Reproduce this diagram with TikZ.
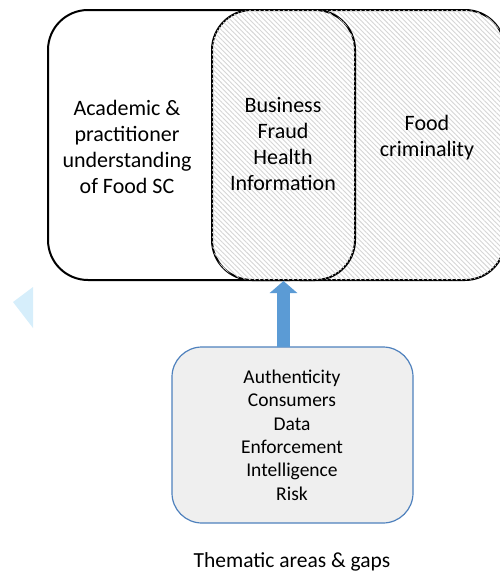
\documentclass[tikz,border=0pt]{standalone}
\usepackage{fontspec}
\setmainfont{Carlito}
\usetikzlibrary{patterns.meta,arrows.meta}
\definecolor{hatchgray}{HTML}{D6D6D6}
\definecolor{arrowblue}{HTML}{5B9BD5}
\definecolor{boxblue}{HTML}{4F81BD}
\definecolor{boxgray}{HTML}{EFEFEF}
\definecolor{triblue}{HTML}{D6EEFB}
\tikzset{
  topbox/.style={draw=black, line width=2pt, rounded corners=40pt},
  hatched/.style={topbox, fill=white, postaction={pattern={Lines[angle=-45,distance=3.4pt,line width=0.9pt]}, pattern color=hatchgray}},
  bigtext/.style={font=\fontsize{22}{26}\selectfont, align=center, inner sep=0pt},
  listtext/.style={font=\fontsize{19.5}{23.4}\selectfont, align=center, inner sep=0pt},
  listbox/.style={draw=boxblue, line width=1.2pt, fill=boxgray, rounded corners=30pt},
}
\begin{document}
\begin{tikzpicture}[x=1pt,y=-1pt]
\useasboundingbox (0,0) rectangle (500,573);
\clip (0,0) rectangle (500,573);
% right hatched box
\draw[hatched] (260,10) rectangle (505,280);
% left white box
\draw[topbox, fill=white] (48,10) rectangle (330,280);
% middle hatched box
\draw[hatched] (212,10) rectangle (355,280);
\coordinate (midS) at (283.5,281);
% texts
\node[bigtext] (left) at (127,147) {Academic \&\\practitioner\\understanding\\of Food SC};
\node[bigtext] (mid) at (283,144) {Business\\Fraud\\Health\\Information};
\node[bigtext] (right) at (427,138) {Food\\criminality};
% bottom box
\draw[listbox] (172,347) rectangle (413,523);
\coordinate (boxN) at (283.5,347);
\node[listtext] (list) at (292,435) {Authenticity\\Consumers\\Data\\Enforcement\\Intelligence\\Risk};
% arrow
\draw[line width=13pt, arrowblue, -{Triangle[length=12pt,width=27pt]}] (boxN) -- (midS);
% caption
\node[font=\fontsize{21.5}{26}\selectfont, inner sep=0pt] (cap) at (292,562) {Thematic areas \& gaps};
% left triangle
\fill[triblue] (13,302) -- (33,287) -- (33,328) -- cycle;
\end{tikzpicture}
\end{document}
